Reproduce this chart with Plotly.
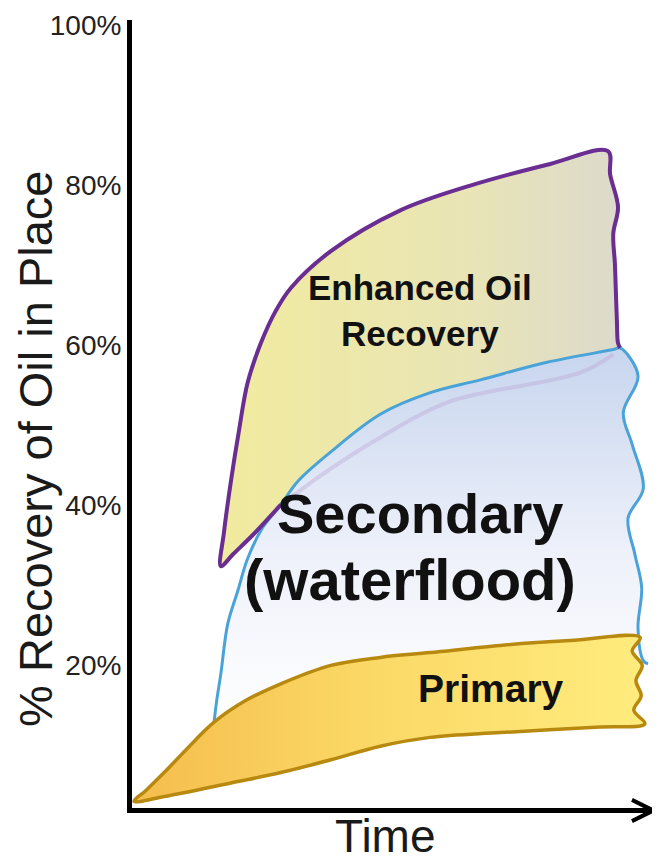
import plotly.graph_objects as go

# ---------------- data (time in % of horizon, recovery in % of oil in place) -------------
# Primary recovery band
primary_top_t = [0.4, 2.7, 6.1, 10.2, 15.6, 21.6, 28.3, 37.8, 47.2, 56.7, 70.0, 83.3, 96.6]
primary_top_pct = [3.0, 4.4, 6.6, 9.4, 12.9, 15.6, 17.7, 20.0, 21.0, 21.6, 22.5, 23.1, 23.5]
primary_end_t = [95.1, 97.0, 95.8, 96.8, 95.4, 97.5]
primary_end_pct = [21.8, 20.0, 18.1, 16.2, 14.4, 12.7]
primary_bottom_t = [89.0, 70.0, 56.7, 47.2, 37.8, 28.3, 18.8, 6.1, 0.4]
primary_bottom_pct = [12.3, 11.6, 11.0, 9.9, 8.2, 6.6, 5.3, 3.6, 3.0]

# Secondary (waterflood) band
secondary_top_t = [15.6, 16.1, 16.9, 18.2, 20.1, 22.0, 24.9, 28.3, 31.5, 37.8, 47.2, 56.7, 66.2, 78.9, 91.5, 92.8]
secondary_top_pct = [12.9, 15.6, 19.0, 25.2, 29.3, 33.4, 37.3, 40.1, 43.0, 46.7, 51.4, 54.1, 55.7, 57.9, 59.5, 59.7]
secondary_end_t = [96.2, 93.4, 95.1, 97.2, 94.3, 95.6, 96.9, 96.2, 97.2, 98.1]
secondary_end_pct = [56.2, 51.6, 47.6, 42.1, 38.4, 33.9, 29.7, 24.7, 20.6, 20.2]

# Enhanced oil recovery band
eor_upper_t = [16.9, 17.5, 18.8, 20.3, 22.0, 24.5, 27.3, 30.2, 37.8, 51.0, 64.3, 79.5, 90.5]
eor_upper_pct = [32.4, 36.7, 43.0, 49.2, 55.4, 60.3, 64.3, 67.2, 71.8, 76.9, 80.0, 82.7, 84.3]
eor_end_t = [90.9, 92.4, 91.5, 91.8, 92.0, 92.2, 92.4, 92.8]
eor_end_pct = [81.4, 77.3, 74.0, 70.3, 66.6, 62.8, 60.3, 59.7]
eor_lower_t = [16.9, 19.2, 23.1, 28.3]
eor_lower_pct = [32.4, 33.9, 36.4, 40.1]
eor_hidden_t = [28.3, 37.8, 47.2, 60.0, 85.2, 91.5]
eor_hidden_pct = [40.1, 44.6, 48.5, 52.9, 56.6, 58.9]

y_ticks = [20, 40, 60, 80, 100]
y_tick_text = ["20%", "40%", "60%", "80%", "100%"]

FONT = "Arial, Liberation Sans, Helvetica, sans-serif"
SM = 1.0

fig = go.Figure()

# ---- EOR fill ----
sec_top_right = [(t, p) for t, p in zip(secondary_top_t, secondary_top_pct) if t >= eor_lower_t[-1]]
eor_x = eor_upper_t + eor_end_t + [t for t, _ in reversed(sec_top_right)] + eor_lower_t[::-1]
eor_y = eor_upper_pct + eor_end_pct + [p for _, p in reversed(sec_top_right)] + eor_lower_pct[::-1]
fig.add_trace(go.Scatter(
    x=eor_x, y=eor_y, mode="lines", fill="toself", line=dict(width=0, shape="spline", smoothing=SM),
    fillgradient=dict(type="horizontal", colorscale=[[0, "#F1EB9F"], [0.6, "#E9E5B4"], [1, "#DCDACC"]]),
    hoverinfo="skip"))

# ---- Secondary fill ----
prim_top_rev = [(t, p) for t, p in zip(primary_top_t, primary_top_pct) if t >= secondary_top_t[0]][::-1]
sec_x = secondary_top_t + secondary_end_t + [t for t, _ in prim_top_rev]
sec_y = secondary_top_pct + secondary_end_pct + [p for _, p in prim_top_rev]
fig.add_trace(go.Scatter(
    x=sec_x, y=sec_y, mode="lines", fill="toself", line=dict(width=0, shape="spline", smoothing=SM),
    fillgradient=dict(type="vertical", colorscale=[[0, "#FFFFFF"], [0.45, "#EEF1FA"], [1, "#C7D5EE"]]),
    hoverinfo="skip"))

# faint hidden lower boundary of EOR seen through the waterflood band
fig.add_trace(go.Scatter(
    x=eor_hidden_t, y=eor_hidden_pct, mode="lines",
    line=dict(color="rgba(190,170,215,0.45)", width=4, shape="spline", smoothing=SM),
    hoverinfo="skip"))

# ---- Secondary outline ----
fig.add_trace(go.Scatter(
    x=secondary_top_t + secondary_end_t, y=secondary_top_pct + secondary_end_pct, mode="lines",
    line=dict(color="#4AA3D8", width=3, shape="spline", smoothing=SM), hoverinfo="skip"))

# ---- EOR outline ----
fig.add_trace(go.Scatter(
    x=eor_lower_t[::-1] + eor_upper_t[1:] + eor_end_t,
    y=eor_lower_pct[::-1] + eor_upper_pct[1:] + eor_end_pct, mode="lines",
    line=dict(color="#6A2D92", width=4, shape="spline", smoothing=SM), hoverinfo="skip"))

# ---- Primary band ----
fig.add_trace(go.Scatter(
    x=primary_top_t + primary_end_t + primary_bottom_t,
    y=primary_top_pct + primary_end_pct + primary_bottom_pct, mode="lines", fill="toself",
    line=dict(color="#B8890F", width=3.5, shape="spline", smoothing=SM),
    fillgradient=dict(type="horizontal", colorscale=[[0, "#F5BD4D"], [0.45, "#FBD865"], [1, "#FFEC7E"]]),
    hoverinfo="skip"))

# ---------------- text ----------------
ann = [
    dict(x=54.8, y=64.4, text="<b>Enhanced Oil<br>Recovery</b>", font=dict(size=35, color="#111111", family=FONT)),
    dict(x=54.8, y=39.0, text="<b>Secondary</b>", font=dict(size=56, color="#111111", family=FONT)),
    dict(x=52.9, y=30.8, text="<b>(waterflood)</b>", font=dict(size=58, color="#111111", family=FONT)),
    dict(x=68.3, y=17.1, text="<b>Primary</b>", font=dict(size=39, color="#111111", family=FONT)),
]
for a in ann:
    fig.add_annotation(xref="x", yref="y", showarrow=False, xanchor="center", yanchor="middle", **a)

fig.add_annotation(xref="paper", yref="paper", x=-0.184, y=0.456, text="% Recovery of Oil in Place",
                   textangle=-90, showarrow=False, xanchor="center", yanchor="middle",
                   font=dict(size=47, color="#1A1A1A", family=FONT))
fig.add_annotation(xref="paper", yref="paper", x=0.482, y=-0.0706, text="Time", showarrow=False,
                   xanchor="center", yanchor="bottom", font=dict(size=46, color="#1A1A1A", family=FONT))

# arrowhead on time axis (sits on the axis line just below the plot area)
fig.add_annotation(xref="x", yref="paper", x=100, y=-0.0032, ax=-40, ay=0, text="", showarrow=True,
                   arrowhead=5, arrowsize=1.4, arrowwidth=3, arrowcolor="#000000", standoff=0)

# the page body adds an 8px offset, so the figure is sized to fill the window exactly
fig.update_layout(
    width=652, height=856, margin=dict(l=124, r=2, t=7, b=56),
    paper_bgcolor="white", plot_bgcolor="white", showlegend=False, hovermode=False,
    xaxis=dict(range=[0, 100], showgrid=False, zeroline=False, showticklabels=False, ticks="",
               showline=True, linecolor="#000000", linewidth=5, fixedrange=True),
    yaxis=dict(range=[2.17, 100.7], showgrid=False, zeroline=False, tickvals=y_ticks, ticktext=y_tick_text,
               ticks="", ticklabelstandoff=0, ticklabeloverflow="allow",
               tickfont=dict(size=28, color="#222222", family=FONT),
               showline=True, linecolor="#000000", linewidth=5, fixedrange=True),
)

fig.write_html("out.html")
